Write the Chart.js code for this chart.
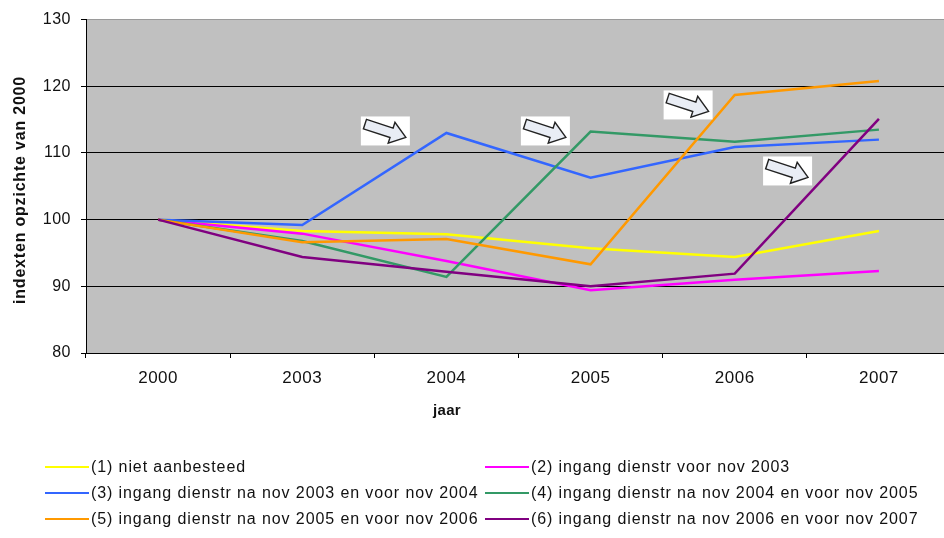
<!DOCTYPE html>
<html>
<head>
<meta charset="utf-8">
<script src="https://cdn.jsdelivr.net/npm/chart.js@4.4.1/dist/chart.umd.min.js"></script>
<style>
  html, body { margin: 0; padding: 0; background: #ffffff; overflow: hidden; }
  #wrap { width: 944px; height: 538px; overflow: hidden; position: relative; }
  canvas { display: block; }
</style>
</head>
<body>
<div id="wrap"><canvas id="c" width="952" height="538"></canvas></div>
<script>
// Index figures (2000 = 100) per tender group
const years = ['2000', '2003', '2004', '2005', '2006', '2007'];
const yTicks = [80, 90, 100, 110, 120, 130];

const nietAanbesteed  = [100, 98.3, 97.8, 95.7, 94.4, 98.3];
const voorNov2003     = [100, 97.9, 93.8, 89.4, 91.0, 92.3];
const nov2003tot2004  = [100, 99.2, 113.0, 106.3, 110.9, 112.0];
const nov2004tot2005  = [100, 96.8, 91.4, 113.2, 111.7, 113.5];
const nov2005tot2006  = [100, 96.6, 97.1, 93.3, 118.7, 120.8];
const nov2006tot2007  = [100, 94.4, 92.2, 90.0, 91.9, 115.1];

const seriesLabels = [
  '(1) niet aanbesteed',
  '(2) ingang dienstr voor nov 2003',
  '(3) ingang dienstr na nov 2003 en voor nov 2004',
  '(4) ingang dienstr na nov 2004 en voor nov 2005',
  '(5) ingang dienstr na nov 2005 en voor nov 2006',
  '(6) ingang dienstr na nov 2006 en voor nov 2007'
];
const seriesColors = ['#ffff00', '#ff00ff', '#3366ff', '#339966', '#ff9900', '#800080'];

// Arrow call-outs placed in axis units: [category position, index value]
const arrowSpots = [[1.58, 113.3], [2.69, 113.3], [3.68, 117.2], [4.37, 107.3]];

const TEXT = '#111111';
const FONT = '"Liberation Sans", Arial, sans-serif';

const seriesData = [nietAanbesteed, voorNov2003, nov2003tot2004, nov2004tot2005, nov2005tot2006, nov2006tot2007];

// grey plotting area and letter spacing for all labels
const plotBackground = {
  id: 'plotBackground',
  beforeDraw(chart) {
    const { ctx, chartArea: a } = chart;
    ctx.letterSpacing = '0.5px';
    ctx.save();
    ctx.fillStyle = '#c0c0c0';
    ctx.fillRect(a.left, a.top, a.right - a.left, a.bottom - a.top);
    ctx.restore();
  }
};

function drawArrow(ctx, cx, cy) {
  ctx.save();
  ctx.fillStyle = '#ffffff';
  ctx.fillRect(cx - 25, cy - 14.5, 49, 29);
  ctx.translate(cx, cy);
  ctx.rotate(18 * Math.PI / 180);
  ctx.beginPath();
  ctx.moveTo(-22, -5);
  ctx.lineTo(6, -5);
  ctx.lineTo(6, -11);
  ctx.lineTo(21, 0);
  ctx.lineTo(6, 11);
  ctx.lineTo(6, 5);
  ctx.lineTo(-22, 5);
  ctx.closePath();
  ctx.fillStyle = '#e9edf5';
  ctx.fill();
  ctx.lineWidth = 1.4;
  ctx.strokeStyle = '#222222';
  ctx.stroke();
  ctx.restore();
}

const decorations = {
  id: 'decorations',
  afterDatasetsDraw(chart) {
    const { ctx, scales: { x, y } } = chart;
    arrowSpots.forEach(([cat, val]) => drawArrow(ctx, x.getPixelForValue(cat), y.getPixelForValue(val)));
  },
  afterDraw(chart) {
    const { ctx } = chart;
    ctx.save();
    ctx.fillStyle = TEXT;
    // axis titles
    ctx.textAlign = 'center';
    ctx.textBaseline = 'middle';
    ctx.letterSpacing = '0.3px';
    ctx.font = 'bold 15px ' + FONT;
    ctx.fillText('jaar', 447, 411);
    ctx.save();
    ctx.translate(21, 190);
    ctx.rotate(-Math.PI / 2);
    ctx.letterSpacing = '0.8px';
    ctx.font = 'bold 16px ' + FONT;
    ctx.fillText('indexten opzichte van 2000', 0, 0);
    ctx.restore();
    // legend, two columns
    ctx.letterSpacing = '0.9px';
    ctx.font = '16px ' + FONT;
    ctx.textAlign = 'left';
    const cols = [45, 485];
    const rows = [467, 493, 519];
    chart.data.datasets.forEach((ds, i) => {
      const lx = cols[i % 2];
      const ly = rows[Math.floor(i / 2)];
      ctx.strokeStyle = ds.borderColor;
      ctx.lineWidth = 2;
      ctx.beginPath();
      ctx.moveTo(lx, ly);
      ctx.lineTo(lx + 44, ly);
      ctx.stroke();
      ctx.fillText(ds.label, lx + 46, ly + 1);
    });
    ctx.restore();
  }
};

new Chart(document.getElementById('c'), {
  type: 'line',
  data: {
    labels: years,
    datasets: seriesLabels.map((label, i) => ({
      label,
      data: seriesData[i],
      borderColor: seriesColors[i],
      backgroundColor: seriesColors[i],
      borderWidth: 2.5,
      pointRadius: 0,
      tension: 0,
      fill: false,
      order: 5 - i
    }))
  },
  options: {
    responsive: false,
    animation: false,
    layout: { padding: { left: 0, top: 19, right: 1, bottom: 0 } },
    plugins: { legend: { display: false }, tooltip: { enabled: false } },
    scales: {
      x: {
        type: 'category',
        offset: true,
        grid: {
          offset: true,
          drawOnChartArea: false,
          drawTicks: true,
          tickLength: 5,
          color: '#000000',
          lineWidth: 1
        },
        border: { display: true, color: '#000000', width: 1 },
        ticks: { color: TEXT, font: { family: FONT, size: 17 }, padding: 10, maxRotation: 0 },
        afterFit(scale) { scale.height = 538 - 353; }
      },
      y: {
        min: 80,
        max: 130,
        afterBuildTicks(scale) { scale.ticks = yTicks.map(v => ({ value: v })); },
        grid: {
          color: ctx => (ctx.tick && ctx.tick.value === 130 ? '#9a9a9a' : '#000000'),
          tickColor: '#000000',
          lineWidth: 1,
          drawTicks: true,
          tickLength: 5
        },
        border: { display: true, color: '#000000', width: 1 },
        ticks: { color: TEXT, font: { family: FONT, size: 16 }, padding: 10 },
        afterFit(scale) { scale.width = 86; }
      }
    }
  },
  plugins: [plotBackground, decorations]
});
</script>
</body>
</html>
